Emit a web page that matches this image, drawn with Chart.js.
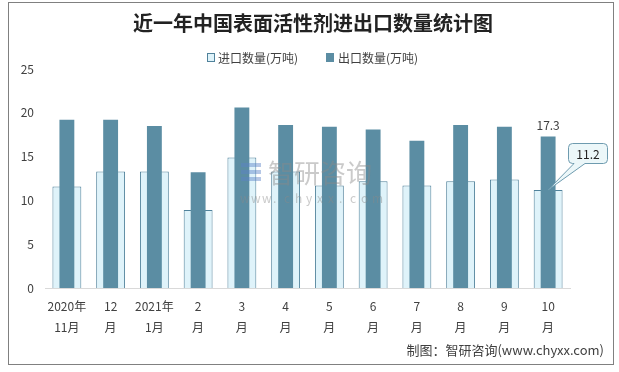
<!DOCTYPE html>
<html>
<head>
<meta charset="utf-8">
<script src="https://cdn.jsdelivr.net/npm/chart.js@4/dist/chart.umd.min.js"></script>
<style>
  html, body { margin: 0; padding: 0; background: #fff; }
</style>
</head>
<body>
<canvas id="chart" width="619" height="372"></canvas>
<script>
// data
const months = [["2020年", "11月"], ["12", "月"], ["2021年", "1月"], ["2", "月"], ["3", "月"], ["4", "月"],
                ["5", "月"], ["6", "月"], ["7", "月"], ["8", "月"], ["9", "月"], ["10", "月"]];
const importValues = [11.6, 13.3, 13.3, 8.9, 14.9, 13.3, 11.7, 12.2, 11.7, 12.2, 12.4, 11.2];
const exportValues = [19.2, 19.2, 18.5, 13.2, 20.6, 18.6, 18.4, 18.1, 16.8, 18.6, 18.4, 17.3];
const seriesNames = ["进口数量(万吨)", "出口数量(万吨)"];
const chartTitle = '近一年中国表面活性剂进出口数量统计图';

const darkBlue = 'rgb(91,141,163)';
const lightFill = 'rgb(223,243,250)';
const lightBorder = 'rgb(80,130,155)';
const textColor = '#404040';
const font = '"Noto Sans CJK SC", "Noto Sans", sans-serif';

// frame, title, legend, watermark, labels, footer
const decor = {
    id: 'decor',
    beforeDraw(chart) {
        const c = chart.ctx;
        c.save();
        c.strokeStyle = '#808080';
        c.lineWidth = 1;
        c.strokeRect(8.5, 2.5, 605, 362);

        // title
        c.fillStyle = '#222';
        c.font = 'bold 20px ' + font;
        c.textAlign = 'center';
        c.textBaseline = 'middle';
        c.fillText(chartTitle, 313, 23);

        // legend
        c.font = '12px ' + font;
        c.textAlign = 'left';
        c.fillStyle = lightFill;
        c.fillRect(207.5, 53.5, 7, 8);
        c.strokeStyle = lightBorder;
        c.strokeRect(207.5, 53.5, 7, 8);
        c.fillStyle = textColor;
        c.fillText(seriesNames[0], 218, 58);
        c.fillStyle = darkBlue;
        c.fillRect(326, 53, 8, 9);
        c.fillStyle = textColor;
        c.fillText(seriesNames[1], 338, 58);
        c.restore();
    },
    afterDatasetsDraw(chart) {
        const c = chart.ctx;
        c.save();
        // watermark
        c.globalAlpha = 0.45;
        c.fillStyle = '#8a8a8a';
        c.font = '26px ' + font;
        c.textBaseline = 'middle';
        c.textAlign = 'left';
        c.fillText('智研咨询', 268, 173);
        c.font = '12px ' + font;
        const w = 'www.chyxx.com';
        for (let i = 0; i < w.length; i++) {
            c.fillText(w[i], 240 + i * 11, 198);
        }
        c.fillStyle = 'rgb(90,130,200)';
        c.fillRect(241, 163, 20, 4);
        c.fillRect(241, 170, 20, 4);
        c.fillRect(241, 177, 20, 4);
        c.globalAlpha = 1;

        // value labels on the last month
        const last = months.length - 1;
        const expBar = chart.getDatasetMeta(0).data[last];
        const impBar = chart.getDatasetMeta(1).data[last];
        c.fillStyle = textColor;
        c.font = '12px ' + font;
        c.textAlign = 'center';
        c.textBaseline = 'bottom';
        c.fillText(exportValues[last].toFixed(1), expBar.x, expBar.y - 5);

        // callout for import value
        const bx = 568.5, by = 143.5, bw = 39, bh = 20, r = 4;
        c.beginPath();
        c.moveTo(bx + r, by);
        c.lineTo(bx + bw - r, by);
        c.arcTo(bx + bw, by, bx + bw, by + r, r);
        c.lineTo(bx + bw, by + bh - r);
        c.arcTo(bx + bw, by + bh, bx + bw - r, by + bh, r);
        c.lineTo(585, by + bh);
        c.lineTo(impBar.x, impBar.y);
        c.lineTo(574, by + bh);
        c.lineTo(bx + r, by + bh);
        c.arcTo(bx, by + bh, bx, by + bh - r, r);
        c.lineTo(bx, by + r);
        c.arcTo(bx, by, bx + r, by, r);
        c.closePath();
        c.fillStyle = 'rgb(236,247,249)';
        c.fill();
        c.strokeStyle = 'rgb(110,155,175)';
        c.lineWidth = 1;
        c.stroke();
        c.fillStyle = '#222';
        c.textBaseline = 'middle';
        c.fillText(importValues[last].toFixed(1), bx + bw / 2, by + bh / 2 + 1);

        // source footer
        c.fillStyle = textColor;
        c.font = '13px ' + font;
        c.textAlign = 'right';
        c.fillText('制图：智研咨询(www.chyxx.com)', 604, 350);
        c.restore();
    }
};

const chart = new Chart(document.getElementById('chart'), {
    type: 'bar',
    data: {
        labels: months,
        datasets: [
            {
                label: seriesNames[1],
                data: exportValues,
                backgroundColor: darkBlue,
                borderWidth: 0,
                barPercentage: 0.34,
                categoryPercentage: 1,
                grouped: false,
                order: 0
            },
            {
                label: seriesNames[0],
                data: importValues,
                backgroundColor: lightFill,
                borderColor: lightBorder,
                borderWidth: 1,
                barPercentage: 0.66,
                categoryPercentage: 1,
                grouped: false,
                order: 1
            }
        ]
    },
    options: {
        responsive: false,
        animation: false,
        devicePixelRatio: 1,
        layout: { padding: { left: 8, right: 49, top: 69, bottom: 34 } },
        plugins: {
            title: { display: false },
            legend: { display: false },
            tooltip: { enabled: false }
        },
        scales: {
            x: {
                grid: { display: false },
                border: { color: '#d9d9d9' },
                ticks: {
                    color: textColor,
                    font: { family: font, size: 12, lineHeight: 1.75 },
                    maxRotation: 0,
                    autoSkip: false,
                    padding: 0
                }
            },
            y: {
                min: 0,
                max: 25,
                grid: { display: false },
                border: { display: false },
                afterFit(axis) { axis.width = 37; },
                ticks: {
                    stepSize: 5,
                    color: textColor,
                    font: { family: font, size: 12 },
                    padding: 3
                }
            }
        }
    },
    plugins: [decor]
});
</script>
</body>
</html>
